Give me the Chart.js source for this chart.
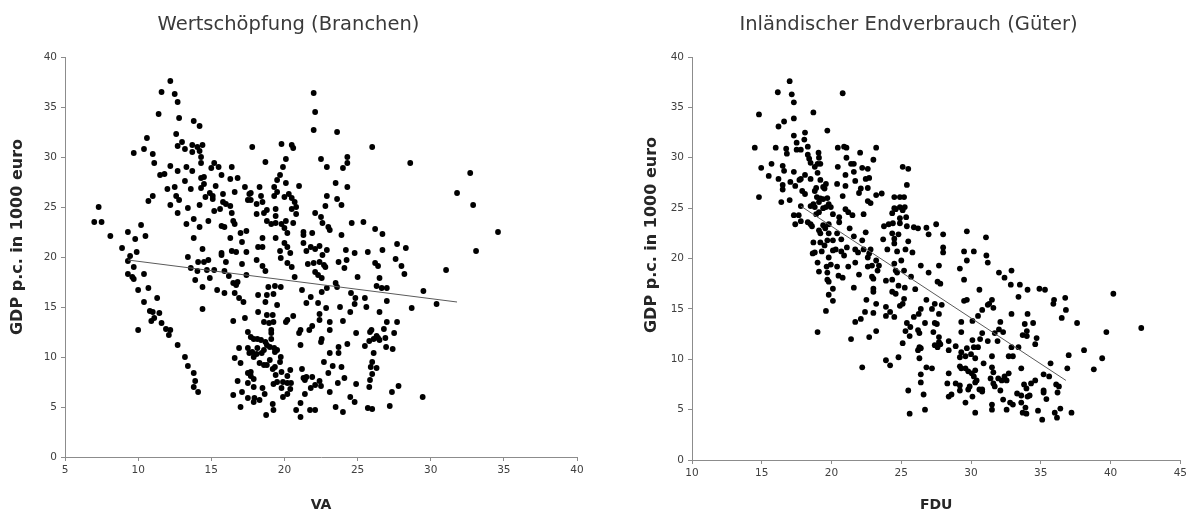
<!DOCTYPE html>
<html><head><meta charset="utf-8">
<script src="https://cdn.jsdelivr.net/npm/chart.js@4"></script>
<style>
body{margin:0;background:#fff;width:1190px;height:515px;overflow:hidden;position:relative}
.box{position:absolute;top:0;height:515px;width:595px}
#b1{left:0}#b2{left:595px}
</style></head><body>
<div class="box" id="b1"><canvas id="c1"></canvas></div>
<div class="box" id="b2"><canvas id="c2"></canvas></div>
<script>
const leftTitle = "Wertschöpfung (Branchen)";
const rightTitle = "Inländischer Endverbrauch (Güter)";
const yAxisTitle = "GDP p.c. in 1000 euro";
const leftXTitle = "VA";
const rightXTitle = "FDU";
const leftXRange = [5, 40];
const rightXRange = [10, 45];
const yRange = [0, 40];

// [VA, GDP p.c.]
const vaPoints = [
[12.2,37.6],[11.6,36.5],[12.5,36.3],[12.7,35.5],[11.4,34.3],[12.8,33.9],[13.8,33.6],[14.2,33.1],[10.6,31.9],[12.6,32.3],
[13.0,31.5],[12.7,31.1],[10.4,30.8],[9.7,30.4],[11.0,30.3],[13.2,30.8],[13.7,31.2],[14.05,31.0],[14.4,31.2],[13.7,30.5],
[14.2,30.6],[14.3,30.0],[11.1,29.4],[12.2,29.1],[12.7,28.6],[13.3,29.0],[13.7,28.6],[14.3,29.4],[15.2,29.4],[15.0,28.9],
[15.5,29.0],[16.4,29.0],[11.5,28.2],[11.8,28.3],[14.3,27.9],[14.5,28.0],[13.2,27.6],[15.7,28.2],[16.3,27.8],[16.8,27.9],
[12.5,27.0],[12.0,26.8],[13.6,26.8],[14.5,27.3],[15.3,27.1],[17.3,27.0],[16.6,26.5],[14.3,26.9],[14.9,26.4],[15.8,26.3],
[17.6,26.3],[12.6,26.1],[11.0,26.1],[10.7,25.6],[12.8,25.7],[14.6,26.0],[15.1,26.1],[15.1,25.8],[13.4,24.9],[12.2,25.2],
[14.2,25.2],[15.8,25.5],[16.0,25.3],[16.3,25.1],[17.5,25.7],[7.3,25.0],[7.0,23.5],[7.5,23.5],[12.7,24.4],[15.6,24.8],
[15.2,24.6],[16.4,24.4],[13.8,23.8],[14.8,23.6],[13.3,23.3],[16.5,23.6],[16.6,23.3],[15.7,23.1],[15.9,23.0],[14.2,23.0],
[10.2,23.2],[8.1,22.1],[9.3,22.5],[9.8,21.8],[10.5,22.1],[13.8,21.9],[16.3,21.9],[17.4,22.6],[17.0,22.4],[17.1,21.5],
[8.9,20.9],[9.9,20.5],[14.4,20.8],[15.7,20.4],[16.4,20.6],[17.4,20.5],
[22.0,36.4],[22.1,34.5],[22.0,32.7],[23.6,32.5],[26.0,31.0],[28.6,29.4],[17.8,31.0],[19.8,31.3],[20.5,31.2],[20.6,30.9],
[18.7,29.5],[20.1,29.8],[19.9,29.0],[22.5,29.8],[22.9,29.0],[24.3,30.0],[24.3,29.4],[24.0,28.9],[19.7,28.2],[19.5,27.7],
[20.1,27.4],[21.0,27.1],[23.5,27.4],[24.3,27.0],[18.3,27.0],[19.3,27.0],[19.5,26.5],[17.7,26.4],[18.4,26.1],[19.3,26.1],
[20.0,26.0],[20.3,26.3],[20.5,25.9],[22.9,26.1],[23.6,25.8],[17.7,25.7],[18.1,25.3],[18.5,25.5],[20.7,25.5],[20.8,25.0],
[22.8,25.1],[23.9,25.2],[20.5,24.8],[19.4,24.8],[18.8,24.7],[18.1,24.3],[18.6,24.4],[19.4,24.1],[20.8,24.3],[22.1,24.4],
[22.5,24.0],[18.8,23.6],[19.1,23.3],[19.4,23.4],[19.8,23.3],[20.1,23.6],[20.6,23.4],[20.0,22.9],[22.6,23.4],[23.0,23.0],
[23.1,22.7],[24.6,23.4],[25.4,23.5],[26.2,22.8],[26.7,22.3],[23.9,22.2],[21.3,22.5],[21.9,22.4],[21.3,22.2],[18.5,21.9],
[19.4,21.9],[20.2,22.4],[18.2,21.0],[18.5,21.0],[20.0,21.4],[20.2,21.0],[21.3,21.4],[21.8,21.0],[22.1,20.8],[22.4,21.1],
[22.9,20.7],[24.2,20.7],[24.8,20.4],[25.7,20.5],[26.7,20.7],[27.7,21.3],[28.3,20.9],[20.4,20.4],[19.7,20.6],[21.5,20.6],
[32.7,28.4],[31.8,26.4],[32.9,25.2],[34.6,22.5],[33.1,20.6],
[9.45,20.1],[9.3,19.6],[9.7,19.0],[9.3,18.3],[9.6,18.0],[9.7,17.8],[10.4,18.3],[10.0,16.7],[10.7,16.9],[10.4,15.5],
[11.3,15.9],[10.8,14.6],[11.0,14.5],[11.45,14.4],[11.1,13.9],[10.9,13.6],[11.6,13.4],[11.9,12.8],[12.2,12.7],[12.1,12.2],
[10.0,12.7],[12.7,11.2],[13.2,10.0],[13.4,9.1],[13.8,8.4],[13.9,7.6],[13.8,7.0],[14.1,6.5],[13.4,20.0],[13.6,18.9],
[14.1,19.5],[14.5,19.5],[14.8,19.7],[14.7,18.7],[14.05,18.6],[15.2,18.7],[13.9,17.7],[14.9,17.9],[14.4,17.0],[15.4,16.7],
[14.4,14.8],[15.7,20.2],[16.0,19.5],[15.9,18.6],[16.2,18.1],[16.7,20.5],[17.1,19.3],[16.5,17.4],[16.8,17.5],[16.7,17.2],
[15.9,16.4],[16.6,16.4],[16.9,15.9],[17.2,15.5],[17.4,18.2],[16.5,13.6],[17.3,13.9],[17.5,12.5],[16.9,10.9],[17.5,10.9],
[16.6,9.9],[17.0,9.4],[17.6,10.4],[17.5,8.4],[16.8,7.6],[17.5,7.4],[16.5,6.2],[17.1,6.5],[17.5,5.9],[17.0,5.0],
[18.1,19.7],[18.5,19.1],[18.7,18.6],[19.75,19.9],[20.2,19.4],[20.5,19.0],[20.7,18.0],[22.6,20.2],[21.6,19.3],[22.0,19.4],
[22.4,19.5],[22.7,19.2],[22.8,19.0],[22.1,18.5],[22.3,18.2],[22.55,17.9],[23.7,19.5],[24.1,18.9],[24.25,19.7],[25.0,18.0],
[26.2,19.4],[26.4,19.1],[26.5,17.9],[27.6,19.8],[28.0,19.1],[28.2,18.3],[26.3,17.1],[26.65,16.9],[27.0,16.9],[23.5,17.4],
[23.6,17.0],[22.9,16.9],[22.55,16.5],[24.55,16.4],[24.85,15.9],[25.5,15.9],[25.6,15.0],[24.8,15.3],[27.0,15.6],[28.7,14.9],
[26.5,14.5],[27.0,13.5],[27.7,13.5],[24.5,14.5],[23.8,15.0],[24.0,13.6],[23.1,13.5],[22.85,14.9],[22.4,14.3],[22.4,13.7],
[23.1,12.7],[21.2,16.7],[21.8,16.0],[22.3,15.4],[21.5,15.4],[20.6,14.1],[20.2,13.7],[20.1,13.5],[21.9,13.1],[21.7,12.7],
[21.1,12.7],[21.0,12.4],[22.55,11.8],[22.5,11.5],[21.1,11.2],[24.9,12.4],[24.3,11.3],[25.5,11.1],[25.85,12.5],[25.95,12.7],
[25.8,11.6],[26.1,11.8],[26.4,11.9],[26.3,12.1],[26.5,11.7],[26.8,12.8],[26.9,11.9],[27.5,12.4],[26.95,11.0],[27.4,10.8],
[26.1,10.4],[26.0,9.5],[25.9,9.0],[26.3,8.9],[26.0,8.3],[25.85,7.7],[25.8,7.0],[27.8,7.1],[27.35,6.5],[27.2,5.1],
[25.7,4.9],[26.0,4.8],[23.1,10.4],[23.7,11.0],[23.7,10.4],[22.7,9.5],[23.3,9.1],[23.9,9.0],[23.0,8.4],[24.1,7.9],
[24.9,7.3],[23.65,7.4],[23.1,6.5],[24.5,6.0],[24.8,5.5],[23.5,5.0],[24.0,4.5],[21.2,8.8],[21.3,7.9],[21.5,8.0],
[21.9,8.0],[21.8,6.9],[21.4,7.7],[22.4,7.6],[22.5,7.1],[22.1,7.2],[21.4,6.3],[21.1,5.4],[20.8,4.7],[21.1,4.0],
[21.75,4.7],[22.1,4.7],[20.4,8.7],[19.8,8.5],[20.2,8.1],[19.9,7.5],[20.2,7.4],[20.45,7.4],[19.5,7.5],[19.4,8.2],
[19.2,8.8],[19.35,9.0],[19.0,9.7],[19.75,10.0],[19.5,10.7],[19.7,9.5],[18.8,9.2],[18.6,9.2],[18.3,9.4],[18.45,10.4],
[18.1,10.3],[17.9,10.0],[17.8,10.5],[18.15,10.9],[18.6,10.7],[19.0,11.0],[19.35,10.5],[19.8,6.9],[20.2,6.3],[19.9,6.0],
[19.2,5.3],[19.25,4.7],[18.75,4.2],[18.5,6.9],[18.65,6.3],[17.9,7.0],[17.7,8.5],[17.7,8.1],[17.9,7.8],[17.95,5.9],
[18.3,5.7],[17.9,5.5],[19.25,7.3],[20.4,6.8],[17.7,12.0],[17.9,11.8],[18.15,11.8],[18.4,11.7],[18.7,11.5],[18.8,11.2],
[19.1,11.8],[19.3,10.9],[19.1,12.7],[19.1,12.4],[18.95,13.4],[19.25,13.5],[18.8,14.2],[18.6,13.5],[18.2,14.5],[19.2,14.2],
[19.5,15.2],[18.7,15.5],[18.2,16.2],[18.8,16.2],[19.25,16.3],[18.9,17.0],[19.35,17.1],[19.75,17.0],
[31.05,18.7],[29.5,16.6],[30.4,15.3],[29.45,6.0]
];

// [FDU, GDP p.c.]
const fduPoints = [
[17.0,37.6],[16.15,36.5],[17.15,36.3],[17.3,35.5],[20.8,36.4],[14.8,34.3],[18.7,34.5],[16.6,33.6],[16.2,33.1],[17.3,33.9],
[19.7,32.7],[17.3,32.2],[18.1,32.5],[18.05,31.8],[17.5,31.5],[14.5,31.0],[16.0,31.0],[16.75,30.9],[16.8,30.4],[17.5,30.8],
[17.8,30.8],[18.3,31.1],[19.07,30.5],[18.3,30.3],[18.4,29.9],[18.5,29.5],[19.1,30.0],[20.45,31.0],[20.9,31.1],[21.07,31.0],
[22.05,30.5],[23.2,31.0],[21.07,30.0],[21.6,29.4],[21.4,29.4],[23.0,29.8],[14.96,29.0],[15.7,29.4],[16.5,29.2],[16.6,28.7],
[15.5,28.2],[16.2,27.9],[17.3,28.6],[17.7,27.8],[18.8,29.1],[19.0,29.4],[19.2,29.4],[19.0,28.5],[20.45,29.1],[21.0,28.3],
[21.6,28.6],[22.2,29.0],[22.6,28.9],[22.7,28.0],[22.45,27.9],[21.7,27.7],[17.05,27.6],[16.5,27.3],[16.5,26.85],[17.4,27.2],
[18.1,28.3],[17.8,27.9],[18.5,27.9],[19.2,27.8],[19.6,27.4],[19.4,27.1],[19.5,26.95],[17.9,26.7],[18.1,26.4],[18.8,26.7],
[18.9,27.0],[20.4,27.4],[21.0,27.2],[22.1,26.95],[22.6,27.0],[21.97,26.5],[23.2,26.3],[14.8,26.1],[16.4,25.6],[17.0,25.8],
[18.95,26.1],[19.2,25.96],[19.4,25.9],[19.7,26.0],[18.7,25.4],[19.1,25.6],[19.8,25.4],[20.8,26.2],[18.8,25.1],[18.5,25.2],
[17.8,25.2],[19.4,25.0],[19.6,25.1],[19.95,25.1],[22.6,25.7],[22.8,25.5],[19.1,24.6],[18.9,24.4],[20.1,24.4],[20.55,24.1],
[21.0,24.9],[21.2,24.6],[21.5,24.3],[22.3,24.4],[17.3,24.3],[17.65,24.3],[17.8,23.7],[17.4,23.4],[18.3,23.6],[18.5,23.4],
[18.6,23.2],[19.4,23.3],[19.8,23.4],[19.55,23.0],[19.2,22.5],[19.8,22.5],[19.1,22.8],[20.55,23.6],[20.4,22.5],[21.3,23.0],
[21.6,22.2],[22.45,22.6],[20.7,21.9],[20.1,21.8],[19.7,21.8],[22.2,21.8],[19.2,21.6],[18.7,21.6],[18.65,20.5],[19.3,20.7],
[19.5,21.3],[20.3,20.9],[21.1,21.1],[20.7,20.7],[21.7,20.9],[21.9,20.6],[22.3,20.9],[22.8,20.9],[22.7,20.5],[18.8,20.6],
[20.1,20.8],
[25.1,29.1],[25.5,28.9],[25.4,27.3],[23.6,26.45],[24.5,26.1],[24.9,26.1],[25.2,26.1],[24.5,25.0],[24.6,24.9],[24.35,24.5],
[24.9,25.1],[25.25,25.1],[25.1,24.8],[24.9,24.0],[25.35,24.1],[23.76,23.2],[24.1,23.4],[24.4,23.5],[24.9,23.5],[25.4,23.2],
[25.9,23.1],[26.2,23.0],[26.8,23.05],[27.5,23.4],[26.96,22.4],[28.0,22.4],[29.7,22.7],[31.07,22.1],[24.35,22.5],[24.8,22.4],
[23.7,21.9],[24.5,21.96],[24.5,21.5],[25.5,21.7],[24.0,20.9],[24.7,20.7],[25.3,20.9],[25.8,20.6],[28.0,21.1],[28.0,20.6],
[29.5,20.7],[30.2,20.7],[31.1,20.3],
[19.8,20.1],[20.9,20.3],[22.6,20.1],[23.2,19.8],[19.0,19.6],[19.65,19.2],[19.95,19.4],[20.4,19.2],[19.1,18.7],[19.7,18.6],
[19.7,17.9],[19.8,17.7],[20.5,18.3],[20.8,18.1],[21.2,19.2],[21.7,19.6],[21.97,18.4],[22.6,19.2],[22.9,19.3],[22.9,18.2],
[23.0,18.0],[23.3,18.8],[20.1,17.0],[19.8,16.4],[20.1,15.8],[21.6,17.1],[23.0,17.0],[23.0,16.7],[22.5,15.9],[23.2,15.5],
[22.4,14.7],[23.0,14.6],[19.6,14.8],[22.1,14.0],[21.7,13.7],[19.0,12.7],[21.4,12.0],[22.7,12.2],[23.2,12.8],[22.2,9.2],
[23.4,19.3],[24.5,19.5],[25.0,19.8],[25.2,18.8],[25.7,18.2],[24.6,18.8],[24.7,18.6],[23.9,17.8],[24.35,17.9],[24.8,17.3],
[25.25,17.1],[26.0,16.96],[24.35,16.7],[24.6,16.5],[26.4,19.3],[27.7,19.3],[26.96,18.6],[29.7,19.8],[29.2,19.0],[29.5,17.9],
[31.2,19.6],[32.0,18.6],[32.4,18.1],[32.9,18.8],[32.85,17.4],[27.6,17.7],[27.8,17.5],[26.8,15.9],[27.4,15.5],[27.9,15.4],
[27.7,14.5],[27.2,15.0],[26.4,15.0],[26.25,14.5],[25.9,14.2],[25.4,13.6],[25.65,13.2],[23.9,15.2],[25.1,15.5],[25.2,16.0],
[24.9,15.3],[24.5,14.2],[23.9,14.3],[24.2,14.7],[25.3,12.8],[26.2,12.9],[26.3,12.6],[26.7,13.6],[27.4,13.6],[27.55,13.5],
[27.3,12.7],[27.7,12.2],[27.7,11.7],[27.4,11.4],[27.6,11.2],[27.8,11.5],[28.4,11.8],[28.4,10.9],[28.9,11.3],[25.1,11.6],
[25.6,12.3],[26.3,11.2],[26.2,10.9],[26.4,11.1],[24.8,10.2],[23.9,9.9],[24.2,9.4],[26.3,10.1],[26.8,9.2],[27.2,9.1],
[26.4,8.5],[26.4,7.7],[25.5,6.9],[26.6,6.5],[25.6,4.6],[26.7,5.0],[28.4,8.6],[28.3,7.6],[28.4,6.3],[29.3,12.7],
[29.7,11.1],[29.3,10.7],[29.2,10.2],[29.6,10.3],[30.0,10.5],[30.3,10.1],[30.2,11.2],[30.5,11.2],[30.1,11.9],[30.65,12.0],
[31.2,11.8],[31.9,11.8],[30.8,12.6],[31.7,12.6],[32.0,12.96],[32.3,12.7],[30.1,13.8],[30.5,14.3],[29.3,13.7],[30.8,14.9],
[31.2,15.4],[31.5,15.9],[31.3,15.5],[30.6,16.9],[29.5,15.8],[29.7,15.9],[31.6,15.1],[32.1,13.7],[32.9,14.5],[32.9,11.2],
[33.0,10.3],[32.7,10.3],[31.5,10.3],[30.9,9.6],[29.2,9.3],[29.3,9.1],[29.6,9.1],[29.8,8.8],[30.05,8.6],[30.3,8.9],
[30.2,8.3],[30.4,7.9],[30.3,7.7],[31.5,9.2],[31.6,8.7],[31.4,8.1],[31.95,8.1],[32.2,7.9],[32.4,8.3],[32.55,7.9],
[32.7,8.6],[31.6,7.6],[31.7,7.3],[32.1,6.9],[32.3,6.0],[32.8,5.7],[33.0,5.5],[33.3,6.6],[31.5,5.5],[31.5,5.0],
[32.55,5.0],[30.3,4.7],[28.9,7.6],[29.2,7.4],[29.9,7.3],[29.8,7.0],[30.6,7.0],[30.1,6.3],[30.8,6.8],[30.8,7.0],
[29.6,5.7],[29.2,6.9],[28.6,6.5],
[33.5,17.4],[34.05,16.9],[34.9,17.0],[35.3,16.9],[33.4,16.2],[35.95,15.9],[35.9,15.5],[36.75,16.1],[40.2,16.5],[36.8,14.9],
[36.5,14.1],[37.6,13.6],[34.05,14.5],[34.45,13.6],[33.85,13.5],[34.0,12.8],[33.7,12.4],[34.0,12.3],[34.7,12.1],[34.6,11.5],
[39.7,12.7],[42.2,13.1],[33.4,11.2],[38.1,10.9],[37.0,10.4],[39.4,10.1],[38.8,9.0],[36.9,9.1],[35.7,9.6],[33.6,9.1],
[35.2,8.5],[35.6,8.3],[34.6,7.9],[34.3,7.6],[33.8,7.5],[33.97,7.1],[36.1,7.5],[36.3,7.3],[35.2,6.9],[35.2,6.7],
[36.2,6.7],[34.2,6.4],[34.05,6.3],[33.6,6.4],[33.6,5.7],[35.4,6.05],[33.9,5.2],[33.7,4.7],[33.97,4.6],[34.8,4.9],
[36.0,4.7],[36.4,5.1],[36.16,4.2],[37.2,4.7],[35.1,4.0]
];

// trend line end points
const vaTrend = [[9.3, 19.7], [31.8, 15.5]];
const fduTrend = [[17.8, 25.2], [36.8, 7.9]];

const FONT = "'DejaVu Sans', sans-serif";

// draws the rotated y-axis title at a given canvas position
const yTitlePlugin = {
  id: 'yTitle',
  afterDraw(chart, args, opts) {
    const ctx = chart.ctx;
    ctx.save();
    ctx.translate(opts.x, opts.y);
    ctx.rotate(-Math.PI / 2);
    ctx.font = "bold 16px " + FONT;
    ctx.fillStyle = '#262626';
    ctx.textAlign = 'center';
    ctx.textBaseline = 'middle';
    ctx.fillText(opts.text, 0, 0);
    ctx.restore();
  }
};

function makeChart(canvasId, title, xTitle, points, trend, xRange, lay) {
  const toXY = arr => arr.map(p => ({x: p[0], y: p[1]}));
  return new Chart(document.getElementById(canvasId), {
    type: 'scatter',
    plugins: [yTitlePlugin],
    data: {
      datasets: [
        {type: 'scatter', data: toXY(points), backgroundColor: '#000', borderColor: '#000',
         pointRadius: 2.9, pointBorderWidth: 0, pointHoverRadius: 2.9, order: 1},
        {type: 'line', data: toXY(trend), borderColor: '#5a5a5a', borderWidth: 1,
         pointRadius: 0, fill: false, order: 0}
      ]
    },
    options: {
      responsive: true, maintainAspectRatio: false, animation: false,
      layout: {padding: {left: lay.pl, right: lay.pr, top: 0, bottom: 0}},
      plugins: {
        legend: {display: false}, tooltip: {enabled: false},
        title: {display: true, text: title, color: '#3a3a3a',
                font: {family: FONT, size: 19.5, weight: 'normal'},
                padding: {top: 13.3, bottom: 20.3}},
        yTitle: {text: yAxisTitle, x: lay.tx, y: lay.ty}
      },
      scales: {
        x: {
          type: 'linear', min: xRange[0], max: xRange[1],
          ticks: {stepSize: 5, color: '#404040', font: {family: FONT, size: 10.5}, padding: 3},
          grid: {drawOnChartArea: false, drawTicks: true, tickLength: 4, color: '#8c8c8c'},
          border: {color: '#8c8c8c', width: 1},
          title: {display: true, text: xTitle, color: '#262626',
                  font: {family: FONT, size: 14, weight: 'bold'}, padding: {top: 4, bottom: 1.5}},
          afterFit: s => { s.height = lay.xh; }
        },
        y: {
          type: 'linear', min: yRange[0], max: yRange[1],
          ticks: {stepSize: 5, color: '#404040', font: {family: FONT, size: 10.5}, padding: 4},
          grid: {drawOnChartArea: false, drawTicks: true, tickLength: 4, color: '#8c8c8c'},
          border: {color: '#8c8c8c', width: 1},
          title: {display: false},
          afterFit: s => { s.width = lay.yw; }
        }
      }
    }
  });
}

makeChart('c1', leftTitle, leftXTitle, vaPoints, vaTrend, leftXRange, {pl: 0, pr: 18, xh: 58, yw: 65, tx: 18, ty: 237});
makeChart('c2', rightTitle, rightXTitle, fduPoints, fduTrend, rightXRange, {pl: 39, pr: 7, xh: 55, yw: 58, tx: 57, ty: 235});
</script>
</body></html>
